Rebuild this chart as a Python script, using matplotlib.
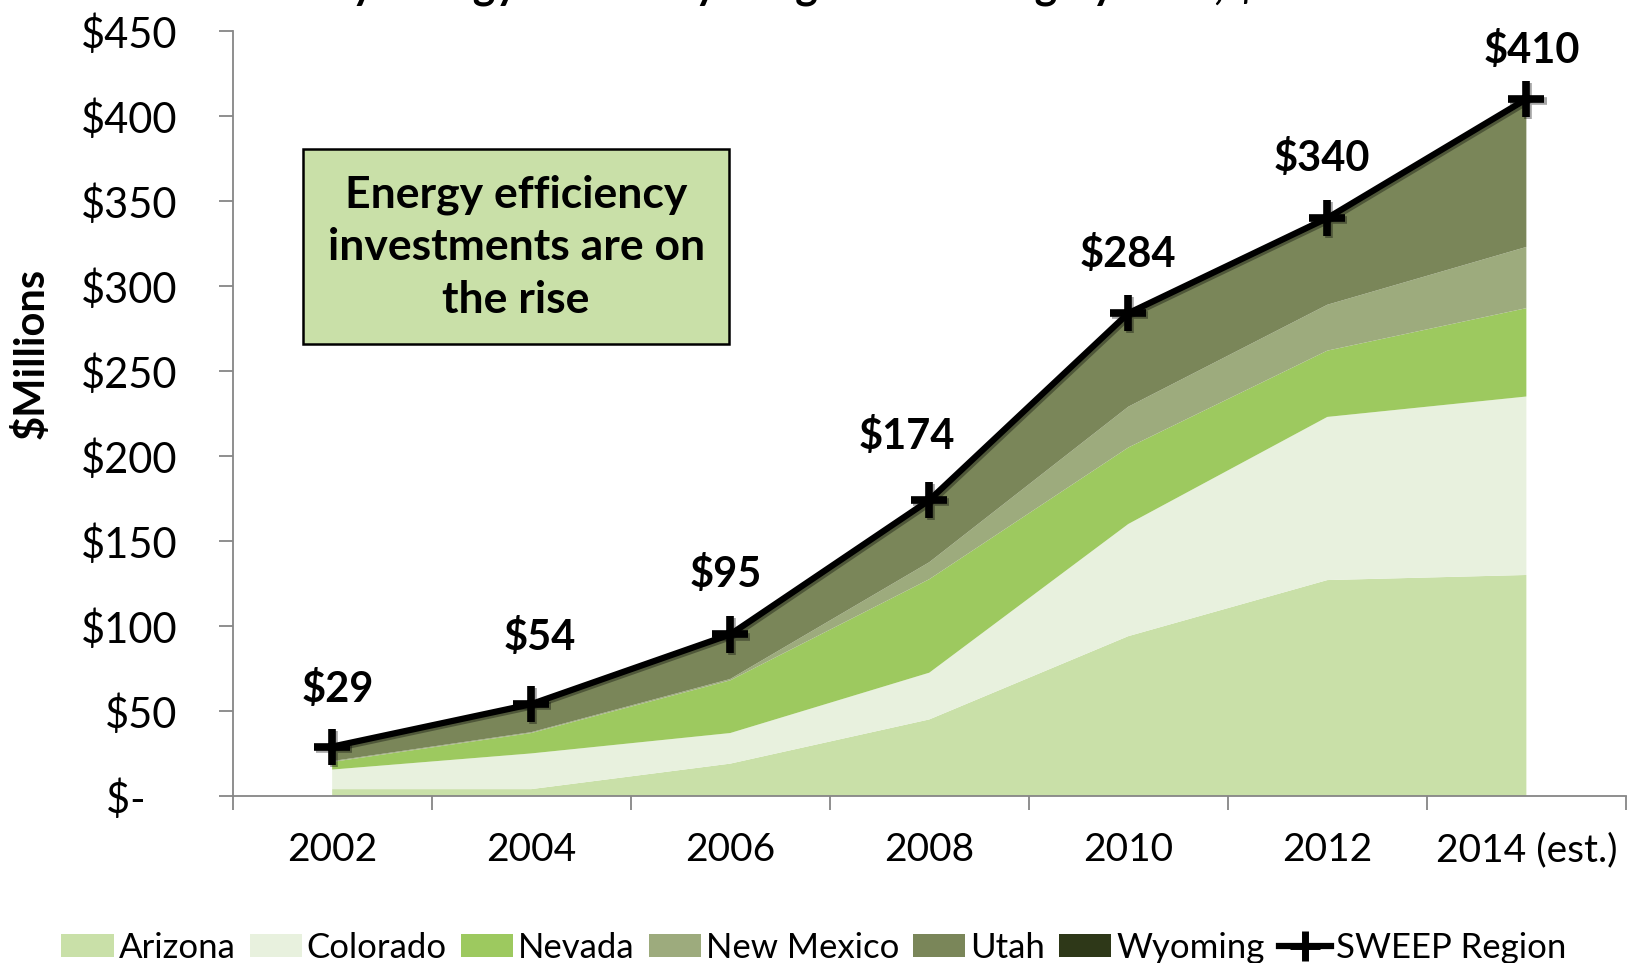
import matplotlib
matplotlib.use("Agg")
import matplotlib.pyplot as plt
import matplotlib.patheffects as pe
from matplotlib.patches import Patch
from matplotlib.lines import Line2D
import numpy as np

plt.rcParams['font.family'] = ['Lato', 'DejaVu Sans']

years = ["2002", "2004", "2006", "2008", "2010", "2012", "2014 (est.)"]
arizona = [4, 4, 19, 45, 94, 127, 130]
colorado = [11.5, 21, 18, 27.5, 66, 96, 105]
nevada = [4.5, 12, 31, 55, 45, 39, 52]
new_mexico = [0.5, 0.5, 0.8, 10, 24, 27, 36]
wyoming = [0, 0, 0, 0, 0, 1, 2]
sweep_total = [29, 54, 95, 174, 284, 340, 410]
utah = [t - a - c - n - m - w for t, a, c, n, m, w in
        zip(sweep_total, arizona, colorado, nevada, new_mexico, wyoming)]
value_labels = ["$29", "$54", "$95", "$174", "$284", "$340", "$410"]

series_names = ["Arizona", "Colorado", "Nevada", "New Mexico", "Utah", "Wyoming"]
colors = ["#c9e0a8", "#e8f1de", "#9dc95f", "#9dab7d", "#7a8659", "#2e3818"]

fig = plt.figure(figsize=(16.28, 9.63), dpi=100)
ax = fig.add_axes([0.1429, 0.1735, 0.8558, 0.7942])

x = np.arange(len(years))
ax.stackplot(x, arizona, colorado, nevada, new_mexico, utah, wyoming,
             colors=colors, linewidth=0)
ax.plot(x, sweep_total, color="black", lw=4.5, marker="+", markersize=26,
        mew=5.5, zorder=5,
        path_effects=[pe.SimpleLineShadow(offset=(1.5, -1.5), alpha=0.35),
                      pe.Normal()])

offsets = [(4, 41), (6, 48), (-3, 43), (-16, 46), (0, 42), (-4, 43), (4, 35)]
for xi, yi, lab, off in zip(x, sweep_total, value_labels, offsets):
    ax.annotate(lab, (xi, yi), xytext=off, textcoords="offset points",
                ha="center", va="center", fontsize=30, fontweight="bold")

ax.set_xlim(-0.5, 6.5)
ax.set_ylim(0, 450)

# y axis
yt = np.arange(0, 451, 50)
ax.set_yticks(yt)
ax.set_yticklabels(["$-   " if v == 0 else f"${v}" for v in yt], fontsize=30)
ax.tick_params(axis="y", length=10, width=1.3, color="#868686", pad=30)

# x axis: major ticks at boundaries, labels at centers
ax.set_xticks(np.arange(-0.5, 7, 1))
ax.set_xticklabels([])
ax.set_xticks(x, minor=True)
ax.set_xticklabels(years, minor=True, fontsize=28)
ax.tick_params(axis="x", which="major", length=10, width=1.3, color="#868686")
ax.tick_params(axis="x", which="minor", length=0, pad=26)

for s in ["top", "right"]:
    ax.spines[s].set_visible(False)
for s in ["left", "bottom"]:
    ax.spines[s].set_color("#868686")
    ax.spines[s].set_linewidth(1.3)

ax.set_ylabel("$Millions", fontsize=30, fontweight="bold")
ax.yaxis.set_label_coords(-0.131, 0.579)

# annotation box
ax.text(0.924, 323, "Energy efficiency\ninvestments are on\nthe rise",
        ha="center", va="center", fontsize=32, fontweight="bold",
        linespacing=1.38,
        bbox=dict(boxstyle="square,pad=0.55", facecolor="#c9e0a8",
                  edgecolor="black", linewidth=1.8))

# clipped title at top
fig.text(0.515, 1.0 + 2 / 963,
         "Utility Energy Efficiency Program Funding by Year, $ Millions",
         ha="center", va="baseline", fontsize=31, fontweight="bold")

handles = [Patch(facecolor=c, edgecolor="none") for c in colors]
handles.append(Line2D([0], [0], color="black", lw=4.5, marker="+",
                      markersize=22, mew=5))
fig.legend(handles, series_names + ["SWEEP Region"], loc="center",
           bbox_to_anchor=(0.5, 0.016), ncol=7, frameon=False, fontsize=25,
           handlelength=1.5, handleheight=0.65, handletextpad=0.15,
           columnspacing=0.4)

fig.savefig("out.png", dpi=100)
